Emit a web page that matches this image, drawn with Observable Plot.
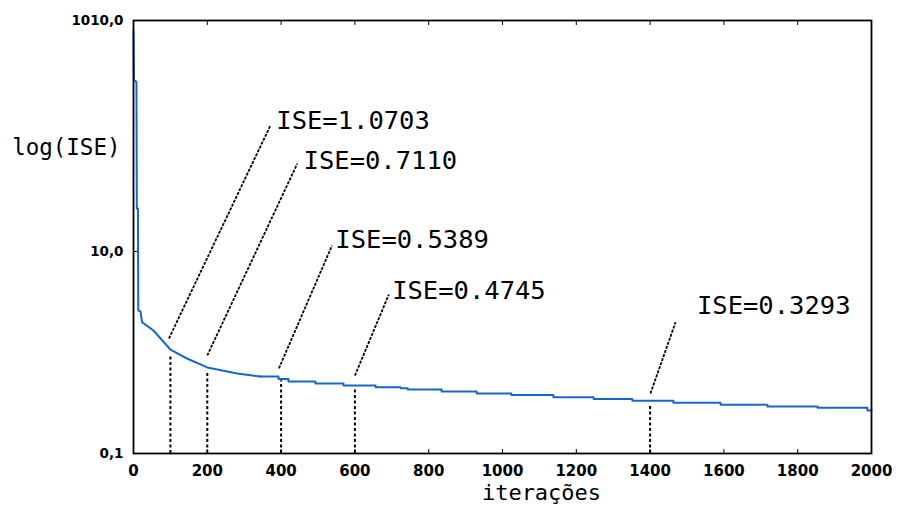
<!DOCTYPE html>
<html>
<head>
<meta charset="utf-8">
<script src="https://cdn.jsdelivr.net/npm/d3@7"></script>
<script src="https://cdn.jsdelivr.net/npm/@observablehq/plot@0.6"></script>
<style>
  html, body { margin: 0; padding: 0; background: #ffffff; }
  #chart { width: 898px; height: 516px; }
</style>
</head>
<body>
<div id="chart"></div>
<script>
// ---- data ----
const xTicks = [0, 200, 400, 600, 800, 1000, 1200, 1400, 1600, 1800, 2000];
const yTicks = [0.1, 10, 1936];
const yTickLabels = ["0,1", "10,0", "1010,0"];

// smooth early descent of the ISE curve
const earlyIter = [0, 1, 4, 8, 9, 12, 13, 19, 23, 54, 100, 145, 200, 281, 344];
const earlyISE  = [1540, 490, 490, 480, 26.7, 26.7, 2.6, 2.55, 2.0, 1.65, 1.07, 0.872, 0.711, 0.62, 0.5786];

// stepped tail of the ISE curve (level starts)
const stepIter = [344, 393, 420, 493, 569, 656, 724, 743, 835, 930, 1024, 1138, 1247, 1352, 1463, 1591, 1718, 1854, 1989, 2000];
const stepISE  = [0.5786, 0.545, 0.516, 0.493, 0.471, 0.453, 0.443, 0.4305, 0.411, 0.393, 0.380, 0.361, 0.3465, 0.3326, 0.3177, 0.303, 0.2917, 0.2836, 0.2667, 0.2667];

// annotated iterations
const markIter = [100, 200, 400, 600, 1400];
const markISE  = [1.0703, 0.7110, 0.5389, 0.4745, 0.3293];
const markLabels = ["ISE=1.0703", "ISE=0.7110", "ISE=0.5389", "ISE=0.4745", "ISE=0.3293"];
const dropTop  = [0.93, 0.62, 0.525, 0.44, 0.30];
const leaderFromIter = [96, 200, 394, 600, 1401];
const leaderFromISE  = [1.376, 0.934, 0.695, 0.591, 0.393];
const leaderToIter   = [371, 444, 538, 692, 1469];
const leaderToISE    = [176.8, 74.3, 11.46, 3.75, 1.995];
const labelIter      = [387, 461, 547, 701, 1527];
const labelISE       = [198, 79.6, 13.15, 4.11, 2.92];

// ---- tables ----
const early = earlyIter.map((x, i) => ({x, y: earlyISE[i]}));
const tail = stepIter.map((x, i) => ({x, y: stepISE[i]}));
const marks = markIter.map((x, i) => ({
  x, ise: markISE[i], top: dropTop[i], label: markLabels[i],
  x1: leaderFromIter[i], y1: leaderFromISE[i],
  x2: leaderToIter[i], y2: leaderToISE[i],
  lx: labelIter[i], ly: labelISE[i]
}));
const yLabelMap = new Map(yTicks.map((v, i) => [v, yTickLabels[i]]));

const blue = "#1766cc";
const mono = "DejaVu Sans Mono";

const chart = Plot.plot({
  width: 898,
  height: 516,
  marginLeft: 133,
  marginRight: 27,
  marginTop: 20,
  marginBottom: 63,
  style: {fontFamily: "DejaVu Sans", background: "#ffffff", color: "#000000", overflow: "visible"},
  x: {domain: [0, 2000]},
  y: {type: "log", domain: [0.1, 1936]},
  marks: [
    // vertical dotted drop lines
    Plot.ruleX(marks, {x: "x", y1: 0.1, y2: "top", stroke: "#000", strokeWidth: 2, strokeDasharray: "3,2.5"}),
    // leader lines
    Plot.link(marks, {x1: "x1", y1: "y1", x2: "x2", y2: "y2", stroke: "#000", strokeWidth: 1.8, strokeDasharray: "3,1.3"}),
    // labels
    Plot.text(marks, {x: "lx", y: "ly", text: "label", textAnchor: "start", fontFamily: mono, fontSize: 25.5, fill: "#000"}),
    // ISE curve
    Plot.line(early, {x: "x", y: "y", stroke: blue, strokeWidth: 2}),
    Plot.line(tail, {x: "x", y: "y", stroke: blue, strokeWidth: 2, curve: "step-after"}),
    // frame
    Plot.frame({stroke: "#000", strokeWidth: 1.8}),
    // axes
    Plot.axisX({anchor: "bottom", ticks: xTicks, tickSize: -4, tickPadding: 16, fontWeight: "bold", tickFormat: d => String(d), label: null}),
    Plot.axisX({anchor: "top", ticks: xTicks, tickSize: -4, tickFormat: () => "", label: null}),
    Plot.axisY({anchor: "left", ticks: yTicks, tickSize: -4, tickPadding: 14, fontWeight: "bold", tickFormat: d => yLabelMap.get(d), label: null}),
    // axis titles
    Plot.text(["log(ISE)"], {frameAnchor: "top-left", dx: -13, dy: 119, textAnchor: "end", fontFamily: mono, fontSize: 22.5, fill: "#000"}),
    Plot.text(["iterações"], {frameAnchor: "bottom", dx: 39, dy: 46, fontFamily: mono, fontSize: 22, fill: "#000"})
  ]
});
// tick label sizes
const xLabelSet = new Set(xTicks.map(String));
const yLabelSet = new Set(yTickLabels);
d3.select(chart).selectAll("text").each(function() {
  const t = this.textContent;
  if (xLabelSet.has(t)) { this.style.fontSize = "15px"; this.setAttribute("font-size", "15"); }
  else if (yLabelSet.has(t)) { this.style.fontSize = "13.5px"; this.setAttribute("font-size", "13.5"); }
});
document.getElementById("chart").appendChild(chart);
</script>
</body>
</html>
